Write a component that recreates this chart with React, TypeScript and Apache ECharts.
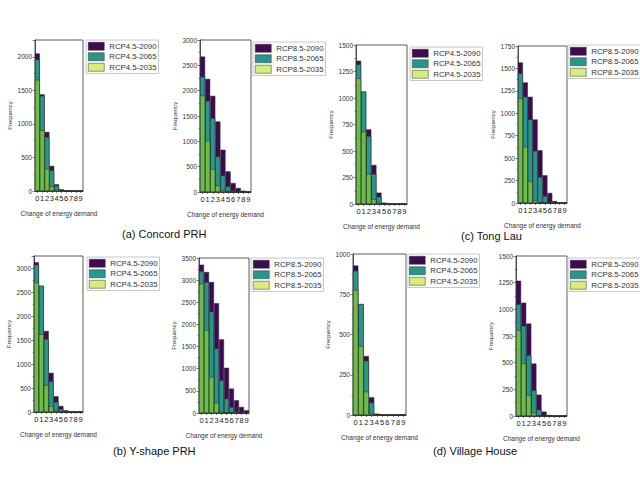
import React, { useEffect, useRef } from "react";
import * as echarts from "echarts";

const bins = ["0", "1", "2", "3", "4", "5", "6", "7", "8", "9"];

// (a) Concord PRH
const concord45_2090 = [2050, 1440, 880, 373, 100, 25, 5, 0, 0, 0];
const concord45_2065 = [1960, 1418, 806, 308, 80, 15, 2, 0, 0, 0];
const concord45_2035 = [1655, 905, 333, 70, 20, 5, 0, 0, 0, 0];
const concord85_2090 = [2672, 2232, 1897, 1392, 834, 407, 177, 79, 26, 7];
const concord85_2065 = [2278, 1799, 1457, 702, 328, 112, 33, 7, 0, 0];
const concord85_2035 = [1904, 1011, 453, 125, 33, 7, 0, 0, 0, 0];
// (c) Tong Lau
const tong45_2090 = [1352, 1060, 704, 368, 107, 13, 2, 0, 0, 0];
const tong45_2065 = [1318, 1060, 641, 283, 69, 6, 0, 0, 0, 0];
const tong45_2035 = [1186, 682, 283, 44, 9, 0, 0, 0, 0, 0];
const tong85_2090 = [1567, 1344, 1184, 931, 588, 309, 112, 22, 4, 0];
const tong85_2065 = [1445, 1184, 931, 581, 290, 78, 11, 0, 0, 0];
const tong85_2035 = [1165, 626, 242, 30, 4, 0, 0, 0, 0, 0];
// (b) Y-shape PRH
const yshape45_2090 = [3119, 2630, 1688, 816, 328, 126, 35, 14, 7, 0];
const yshape45_2065 = [3070, 2630, 1521, 642, 209, 63, 14, 3, 0, 0];
const yshape45_2035 = [2700, 1619, 558, 119, 28, 7, 0, 0, 0, 0];
const yshape85_2090 = [3349, 3183, 2956, 2479, 1663, 1021, 552, 287, 136, 60];
const yshape85_2065 = [3198, 2956, 2291, 1459, 741, 325, 136, 38, 8, 0];
const yshape85_2035 = [2918, 1875, 816, 227, 30, 8, 0, 0, 0, 0];
// (d) Village House
const village45_2090 = [928, 689, 366, 110, 8, 0, 0, 0, 0, 0];
const village45_2065 = [896, 689, 337, 77, 6, 0, 0, 0, 0, 0];
const village45_2035 = [776, 429, 145, 10, 0, 0, 0, 0, 0, 0];
const village85_2090 = [1268, 1062, 867, 492, 200, 41, 9, 0, 0, 0];
const village85_2065 = [1049, 846, 570, 241, 60, 6, 0, 0, 0, 0];
const village85_2035 = [805, 492, 194, 31, 3, 0, 0, 0, 0, 0];

const names45 = ["RCP4.5-2090", "RCP4.5-2065", "RCP4.5-2035"];
const names85 = ["RCP8.5-2090", "RCP8.5-2065", "RCP8.5-2035"];

const captions = ["(a) Concord PRH", "(c) Tong Lau", "(b) Y-shape PRH", "(d) Village House"];

const COL_PURPLE = "#400a52";
const COL_TEAL = "#28978b";
const COL_GREEN = "#6dbd47";
const COL_LIGHT = "#d6ec7c";

type Panel = {
  grid: [number, number, number, number];
  max: number;
  interval: number;
  names: string[];
  data: number[][];
  legend: [number, number];
};

const panels: Panel[] = [
  { grid: [35, 40, 48, 151], max: 2250, interval: 500, names: names45, data: [concord45_2090, concord45_2065, concord45_2035], legend: [86, 40] },
  { grid: [200, 40, 51, 152], max: 3000, interval: 500, names: names85, data: [concord85_2090, concord85_2065, concord85_2035], legend: [253, 42] },
  { grid: [356, 45, 51, 159], max: 1500, interval: 250, names: names45, data: [tong45_2090, tong45_2065, tong45_2035], legend: [410, 47] },
  { grid: [518, 46, 49, 157], max: 1750, interval: 250, names: names85, data: [tong85_2090, tong85_2065, tong85_2035], legend: [568, 45] },
  { grid: [34, 256, 49, 156], max: 3250, interval: 500, names: names45, data: [yshape45_2090, yshape45_2065, yshape45_2035], legend: [87, 257] },
  { grid: [199, 258, 50, 155], max: 3500, interval: 500, names: names85, data: [yshape85_2090, yshape85_2065, yshape85_2035], legend: [251, 258] },
  { grid: [353, 254, 53, 161], max: 1000, interval: 250, names: names45, data: [village45_2090, village45_2065, village45_2035], legend: [407, 254] },
  { grid: [516, 256, 51, 160], max: 1500, interval: 250, names: names85, data: [village85_2090, village85_2065, village85_2035], legend: [568, 258] },
];

const captionPos: [number, number][] = [
  [122, 228],
  [461, 230],
  [113, 445],
  [433, 445],
];

export default function App() {
  const ref = useRef<HTMLDivElement>(null);
  useEffect(() => {
    if (!ref.current) return;
    const chart = echarts.init(ref.current, undefined, { renderer: "svg" });
    const colors = [COL_PURPLE, COL_TEAL, COL_GREEN];
    const legendColors = [COL_PURPLE, COL_TEAL, COL_LIGHT];
    const font = "Liberation Sans, Arial, sans-serif";

    const grid = panels.map((p) => ({
      left: p.grid[0],
      top: p.grid[1],
      width: p.grid[2],
      height: p.grid[3],
      show: true,
      borderColor: "#333",
      borderWidth: 0.8,
      backgroundColor: "transparent",
      containLabel: false,
    }));
    const xAxis = panels.map((p, i) => ({
      type: "category" as const,
      gridIndex: i,
      data: bins,
      boundaryGap: true,
      name: "Change of energy demand",
      nameLocation: "middle" as const,
      nameGap: 19,
      nameTextStyle: { fontSize: 6.5, color: "#333", fontFamily: font },
      axisLine: { lineStyle: { color: "#333", width: 0.8 } },
      axisTick: { show: true, alignWithLabel: true, length: 2, lineStyle: { color: "#333", width: 0.6 } },
      axisLabel: { fontSize: 7.5, color: "#222", margin: 3, interval: 0, fontFamily: font },
      splitLine: { show: false },
    }));
    const yAxis = panels.map((p, i) => ({
      type: "value" as const,
      gridIndex: i,
      min: 0,
      max: p.max,
      interval: p.interval,
      name: "Frequency",
      nameLocation: "middle" as const,
      nameGap: 22,
      nameTextStyle: { fontSize: 6, color: "#333", fontFamily: font },
      axisLine: { show: true, lineStyle: { color: "#333", width: 0.8 } },
      axisTick: { show: true, inside: false, length: 2.5, lineStyle: { color: "#333", width: 0.6 } },
      minorTick: { show: true, splitNumber: 2, length: 1.5, lineStyle: { color: "#333", width: 0.5 } },
      axisLabel: {
        fontSize: 6.5,
        color: "#333",
        margin: 3,
        fontFamily: font,
        showMaxLabel: p.max % p.interval === 0,
        formatter: (v: number) => String(v),
      },
      splitLine: { show: false },
    }));
    const series: any[] = [];
    panels.forEach((p, i) => {
      p.data.forEach((d, k) => {
        series.push({
          type: "bar",
          name: p.names[k],
          xAxisIndex: i,
          yAxisIndex: i,
          data: d,
          barGap: "-100%",
          barCategoryGap: "0%",
          barWidth: "100%",
          itemStyle: { color: colors[k], borderColor: "#2a2a2a", borderWidth: 0.5 },
          emphasis: { disabled: true },
          silent: true,
        });
      });
    });
    const legend = panels.map((p) => ({
      left: p.legend[0],
      top: p.legend[1],
      orient: "vertical" as const,
      itemWidth: 16,
      itemHeight: 8,
      itemGap: 2,
      padding: [2, 2, 2, 2],
      borderColor: "#c8c8c8",
      borderWidth: 1,
      backgroundColor: "#fff",
      selectedMode: false,
      icon: "rect",
      textStyle: { fontSize: 7.8, color: "#333", fontFamily: font },
      data: p.names.map((n, k) => ({
        name: n,
        itemStyle: { color: legendColors[k], borderColor: "#333", borderWidth: 0.5 },
      })),
    }));
    const graphic = captions.map((c, i) => ({
      type: "text" as const,
      left: captionPos[i][0],
      top: captionPos[i][1],
      style: { text: c, fontSize: 11, fill: "#111", fontFamily: font },
    }));

    chart.setOption({
      animation: false,
      backgroundColor: "#fff",
      grid,
      xAxis,
      yAxis,
      series,
      legend,
      graphic,
    });
    return () => chart.dispose();
  }, []);
  return <div ref={ref} style={{ position: "absolute", left: 0, top: 0, width: 640, height: 488 }} />;
}
